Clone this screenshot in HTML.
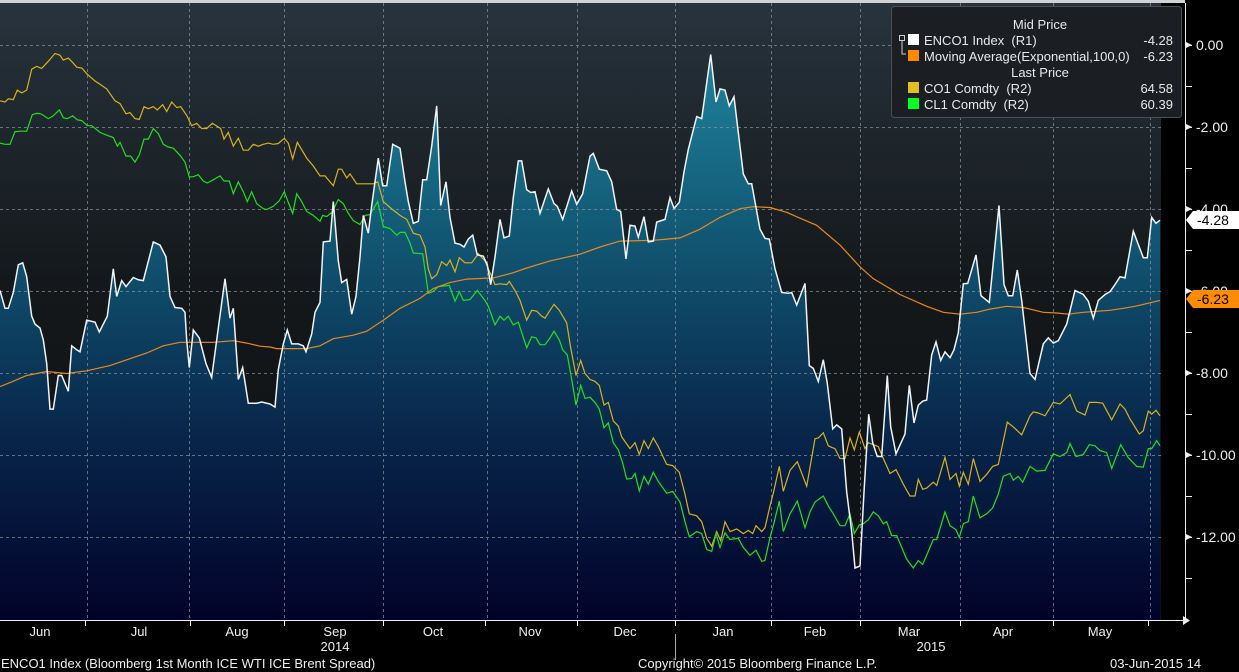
<!DOCTYPE html>
<html><head><meta charset="utf-8"><style>
html,body{margin:0;padding:0;background:#000;}
body{width:1239px;height:672px;overflow:hidden;position:relative;font-family:"Liberation Sans",sans-serif;}
svg{position:absolute;left:0;top:0}
text{font-family:"Liberation Sans",sans-serif;white-space:pre}
</style></head><body>
<svg id="s" width="1239" height="672" viewBox="0 0 1239 672">
<defs>
<linearGradient id="bg" x1="0" y1="0" x2="0" y2="1">
<stop offset="0" stop-color="#27333d"/><stop offset="0.45" stop-color="#14181b"/><stop offset="1" stop-color="#0e1012"/>
</linearGradient>
<linearGradient id="fl" gradientUnits="userSpaceOnUse" x1="0" y1="0" x2="0" y2="620">
<stop offset="0" stop-color="#2390a8"/><stop offset="0.35" stop-color="#135c78"/><stop offset="0.7" stop-color="#08264a"/><stop offset="1" stop-color="#02022a"/>
</linearGradient>
</defs>
<rect x="0" y="0" width="1239" height="672" fill="#000"/>
<rect x="0" y="3" width="1161" height="617" fill="url(#bg)"/>
<rect x="0" y="0" width="1185" height="3" fill="#cfd3d6"/>
<g id="fill"></g>
<g id="grid" stroke="#8a95a0" stroke-width="1" stroke-dasharray="3,3" opacity="0.7"></g>
<g id="lines"></g>
<g id="axes"></g>
<rect x="891.5" y="6.5" width="290" height="111" rx="3" fill="#1b1f24" stroke="#4a4f55"/>
<g font-size="13" fill="#e8e8e8">
<text x="1040" y="29" text-anchor="middle">Mid Price</text>
<text x="924" y="45">ENCO1 Index  (R1)</text><text x="1173" y="45" text-anchor="end">-4.28</text>
<text x="924" y="61">Moving Average(Exponential,100,0)</text><text x="1173" y="61" text-anchor="end">-6.23</text>
<text x="1040" y="77" text-anchor="middle">Last Price</text>
<text x="924" y="93">CO1 Comdty  (R2)</text><text x="1173" y="93" text-anchor="end">64.58</text>
<text x="924" y="109">CL1 Comdty  (R2)</text><text x="1173" y="109" text-anchor="end">60.39</text>
</g>
<rect x="908" y="34" width="11" height="11" fill="#fff"/>
<rect x="908" y="50" width="11" height="11" fill="#ff8a00"/>
<rect x="908" y="82" width="11" height="11" fill="#e0c020"/>
<rect x="908" y="98" width="11" height="11" fill="#00ff22"/>
<rect x="899.5" y="35.5" width="5" height="5" fill="none" stroke="#ccc"/>
<path d="M902 41V54H906" stroke="#ccc" fill="none"/>
<g font-size="13" fill="#eee" text-anchor="middle">
<text x="40" y="636">Jun</text><text x="139" y="636">Jul</text><text x="237" y="636">Aug</text><text x="335" y="636">Sep</text><text x="433" y="636">Oct</text><text x="530" y="636">Nov</text><text x="625" y="636">Dec</text><text x="723" y="636">Jan</text><text x="815" y="636">Feb</text><text x="909" y="636">Mar</text><text x="1003" y="636">Apr</text><text x="1100" y="636">May</text>
<text x="335" y="651">2014</text><text x="931" y="651">2015</text>
</g>
<line x1="675.5" y1="634" x2="675.5" y2="660" stroke="#aaa"/>
<g font-size="13" fill="#eee">
<text x="1" y="668">ENCO1 Index (Bloomberg 1st Month ICE WTI ICE Brent Spread)</text>
<text x="638" y="668">Copyright© 2015 Bloomberg Finance L.P.</text>
<text x="1110" y="668">03-Jun-2015 14</text>
</g>
</svg>
<script>
var NS="http://www.w3.org/2000/svg";
function el(t,a,p){var e=document.createElementNS(NS,t);for(var k in a)e.setAttribute(k,a[k]);document.getElementById(p).appendChild(e);return e;}
function conv(arr,off,lo,hi){var r=[];for(var i=0;i<arr.length;i+=2){var x=arr[i]/3+off,y=arr[i+1]/2.53;if(x>=lo&&x<=hi)r.push([x,y]);}return r;}
function join(a){return a.map(function(p){return p[0].toFixed(1)+","+p[1].toFixed(1)}).join(" ");}
var W4=[0,735,15,780,25,780,40,740,55,670,68,665,80,700,95,800,105,820,120,830,130,860,140,920,150,1035,160,1035,175,950,185,950,195,970,205,990,215,875,230,885,240,890,260,810,285,815,298,840,322,800,340,680,350,750,365,710,378,725,400,702,415,708,430,710,460,612,480,620,498,650,510,750,525,778,545,780,555,790,560,860,568,930,580,835,598,855,618,920,635,955,655,830,675,705,690,805,700,780,715,960,728,930,745,1020,770,1020,785,1017,810,1022,825,1030,835,935,850,870,862,835,875,870,895,870,910,875,918,890,935,845,945,790,960,765,970,612,990,610,1000,510,1015,660,1025,715,1040,707,1055,795,1068,750,1080,650,1090,545,1105,590,1115,520,1135,400,1148,470,1160,470,1178,365,1200,375];
var W5=[0,372,15,460,25,510,40,565,55,560,68,455,80,455,95,370,110,268,122,520,138,460,150,550,165,615,180,618,192,625,205,605,218,595,232,645,250,648,262,670,272,720,285,650,300,555,312,602,328,597,340,500,355,407,365,407,380,480,392,487,405,485,420,540,445,478,462,515,472,522,488,555,515,483,530,517,548,490,570,395,580,388,598,428,620,432,635,460,650,530,662,535,678,655,690,570,705,572,715,600,732,548,745,612,760,610,770,562,795,555,810,500,822,527,838,512,852,435,865,378,890,295,905,300,920,210,932,138,948,258,960,225,975,228,988,268,1002,245,1030,440,1045,465,1055,465,1080,580,1095,603,1108,605,1125,680,1145,740,1165,742,1175,740,1190,772,1205,716,1215,718,1228,925,1240,935,1255,965];
var W6=[0,717,15,717,28,925,40,932,55,965,70,910,82,970,98,1085,110,1075,125,1085,140,1245,155,1345,165,1437,180,1432,192,1245,206,1048,218,1120,232,1155,245,1155,262,950,272,1080,288,1148,315,1098,328,975,342,1070,355,1025,368,1015,380,1012,395,898,408,865,422,912,435,890,450,905,462,885,475,842,490,718,503,717,528,645,543,748,568,765,597,520,612,720,625,748,638,748,652,683,665,760,690,945,705,960,730,870,745,855,760,868,775,862,800,820,825,735,850,745,865,762,880,805,895,760,915,745,930,738,945,720,960,700,975,703,1000,585,1030,652,1042,652,1055,550,1068,565,1080,557];
var O4=[0,978,30,968,80,950,140,940,200,945,260,938,330,925,440,893,490,875,540,866,640,866,700,862,740,868,780,876,810,878,830,882,920,882,960,875,1000,857,1060,848,1100,838,1150,810,1200,780];
var O5=[0,775,60,755,100,730,150,715,200,706,280,703,340,690,380,678,450,660,540,643,600,625,660,610,760,608,800,605,840,602,900,580,960,550,1020,528,1060,523,1110,525,1160,537,1200,552,1260,580];
var O6=[0,550,50,570,120,620,180,675,220,705,300,745,380,775,430,790,480,795,530,790,570,782,620,775,670,778,730,790,770,792,805,795,850,790,930,785,970,780,1005,775,1040,768,1080,760];
var G4=[0,255,15,258,25,250,40,252,52,228,65,235,80,228,95,175,110,168,125,173,145,155,165,135,180,140,190,152,205,147,220,160,230,170,245,172,262,188,285,205,300,213,320,225,345,255,360,262,378,288,390,285,405,300,418,302,432,270,445,275,460,270,472,278,488,265,500,282,515,258,530,272,542,270,560,292,575,318,590,312,605,325,620,325,637,312,662,325,672,352,685,335,700,370,715,350,730,380,745,380,760,365,775,370,790,365,805,362,820,365,835,363,853,350,865,362,878,402,892,360,920,400,940,420,960,445,975,445,1000,470,1015,428,1025,428,1040,450,1050,440,1070,465,1120,465,1133,460,1150,510,1170,525,1200,545];
var G5=[0,540,20,555,40,590,60,595,75,625,85,680,95,705,110,695,125,662,140,672,150,658,165,688,178,652,195,665,215,665,235,642,255,660,270,690,285,720,300,718,320,720,328,712,345,735,360,760,380,810,395,785,410,787,425,800,435,805,450,785,462,770,478,785,500,817,512,880,528,950,542,912,555,945,570,960,585,965,598,975,612,1025,625,1018,640,1065,655,1078,665,1105,690,1135,705,1120,718,1150,732,1115,745,1135,760,1108,775,1130,800,1175,818,1178,838,1195,855,1250,868,1300,890,1305,905,1320,920,1362,935,1382,950,1345,962,1368,975,1320,990,1345,1010,1338,1030,1350,1045,1342,1058,1350,1068,1330,1085,1345,1095,1335,1110,1280,1120,1248,1138,1180,1150,1243,1170,1190,1192,1168,1218,1232,1230,1195,1245,1110,1260,1108];
var G6=[0,1190,20,1230,45,1110,55,1108,70,1095,85,1128,95,1132,105,1135,120,1160,135,1160,150,1108,163,1138,178,1093,195,1135,205,1120,235,1130,250,1160,270,1198,288,1188,310,1225,330,1255,345,1255,355,1213,368,1238,380,1235,400,1220,410,1228,435,1157,450,1213,468,1198,478,1230,490,1195,505,1225,520,1160,540,1218,560,1200,578,1180,595,1175,622,1068,640,1080,665,1100,690,1052,700,1042,715,1045,735,1052,760,1018,780,1022,810,998,830,1040,855,1050,868,1018,890,1018,908,1020,935,1062,960,1022,975,1035,990,1060,1018,1098,1030,1090,1045,1040,1055,1048,1068,1038,1080,1052];
var C4=[0,362,15,365,30,365,45,333,62,332,80,332,97,290,110,287,122,288,145,300,160,293,178,278,190,298,202,300,218,293,232,303,245,305,262,318,275,318,300,335,320,342,340,348,352,370,360,360,378,395,392,395,405,410,418,392,432,352,445,352,460,325,475,338,490,365,505,372,520,375,540,393,555,410,568,448,580,447,595,442,610,458,622,463,640,455,660,445,672,458,688,458,700,490,715,460,730,485,742,510,755,485,770,515,790,528,800,530,820,522,838,508,853,485,865,512,878,540,890,490,905,510,920,535,940,545,960,560,968,545,980,548,995,538,1015,505,1030,515,1045,540,1060,558,1080,568,1095,545,1110,543,1133,510,1150,573,1170,578,1190,595,1200,588];
var C5=[0,558,15,588,30,615,40,640,68,642,85,742,100,737,115,725,148,722,165,762,178,738,190,760,210,758,232,735,255,760,265,775,285,822,300,800,312,810,325,800,340,822,355,815,380,880,395,852,408,855,420,872,435,872,450,855,462,838,478,860,488,885,502,898,515,960,528,1025,542,975,555,1008,570,1005,585,1018,598,1035,612,1082,625,1070,640,1120,655,1138,668,1172,680,1212,695,1210,705,1198,718,1242,732,1205,745,1225,760,1195,775,1218,800,1248,818,1243,840,1270,855,1320,868,1358,890,1345,905,1350,920,1390,935,1395,948,1350,960,1385,975,1348,990,1365,1015,1362,1030,1385,1050,1405,1068,1392,1085,1420,1095,1418,1110,1360,1120,1330,1138,1268,1150,1345,1170,1300,1192,1268,1218,1338,1230,1305,1245,1270,1260,1262];
var C6=[0,1318,15,1335,30,1295,45,1270,70,1255,85,1280,100,1300,120,1330,135,1330,150,1300,163,1350,178,1328,190,1325,205,1315,220,1295,235,1305,250,1325,260,1320,275,1355,290,1355,305,1385,320,1415,340,1437,355,1418,368,1428,385,1395,400,1365,410,1365,435,1295,450,1330,468,1340,478,1360,490,1325,505,1320,520,1255,540,1310,560,1300,578,1285,595,1250,610,1205,630,1198,640,1215,655,1205,668,1220,690,1180,710,1192,735,1190,760,1148,780,1155,800,1145,810,1122,828,1155,850,1150,868,1125,885,1128,900,1140,920,1145,935,1185,962,1125,985,1158,1010,1180,1030,1182,1045,1135,1055,1135,1070,1115,1080,1128];
function series(a,b,c){return conv(a,0,0,400).concat(conv(b,400,400.1,800)).concat(conv(c,800,800.1,1200));}
var w=series(W4,W5,W6),o=series(O4,O5,O6),g=series(G4,G5,G6),c=series(C4,C5,C6);
el("path",{d:"M"+w[0][0]+",620 L"+join(w)+" L"+w[w.length-1][0]+",620Z",fill:"url(#fl)"},"fill");
[45,127,209,291,373,455,537].forEach(function(y){el("line",{x1:0,x2:1161,y1:y+0.5,y2:y+0.5},"grid");});
[87,189,284,383,487,577,675,771,860,960,1053,1150].forEach(function(x){el("line",{x1:x+0.5,x2:x+0.5,y1:3,y2:620},"grid");});
el("polyline",{points:join(g),fill:"none",stroke:"#d8b21c","stroke-width":1.2},"lines");
el("polyline",{points:join(c),fill:"none",stroke:"#1fe01f","stroke-width":1.2},"lines");
el("polyline",{points:join(o),fill:"none",stroke:"#e88a1a","stroke-width":1.2},"lines");
el("polyline",{points:join(w),fill:"none",stroke:"#f0f4f8","stroke-width":1.5},"lines");
el("line",{x1:0,x2:1185,y1:620.5,y2:620.5,stroke:"#eee"},"axes");
el("path",{d:"M1183,616 L1190,620.5 L1183,625Z",fill:"#eee"},"axes");
[85,190,284,383,485,577,675,771,860,960,1053,1148].forEach(function(x){el("line",{x1:x+0.5,x2:x+0.5,y1:620,y2:626,stroke:"#eee"},"axes");});
el("line",{x1:1185.5,x2:1185.5,y1:3,y2:620,stroke:"#eee"},"axes");
for(var v=1;v>=-14;v--){var y=45-v*41;if(y<5||y>618)continue;el("line",{x1:1185,x2:1192,y1:y+0.5,y2:y+0.5,stroke:"#eee"},"axes");}
var labs=[["0.00",0],["-2.00",-2],["-4.00",-4],["-6.00",-6],["-8.00",-8],["-10.00",-10],["-12.00",-12]];
labs.forEach(function(l){var y=45-l[1]*41;el("path",{d:"M1186,"+(y-3)+" L1192,"+y+" L1186,"+(y+3)+"Z",fill:"#eee"},"axes");var t=el("text",{x:1196,y:y+5,"font-size":14,fill:"#eee"},"axes");t.textContent=l[0];});
function tag(y,txt,bg,fg){el("path",{d:"M1186,"+y+" L1193,"+(y-9)+" L1239,"+(y-9)+" L1239,"+(y+9)+" L1193,"+(y+9)+"Z",fill:bg},"axes");var t=el("text",{x:1197,y:y+5,"font-size":14,fill:fg},"axes");t.textContent=txt;}
tag(220,"-4.28","#ffffff","#000");
tag(299,"-6.23","#ff8c00","#000");
</script>
</body></html>
